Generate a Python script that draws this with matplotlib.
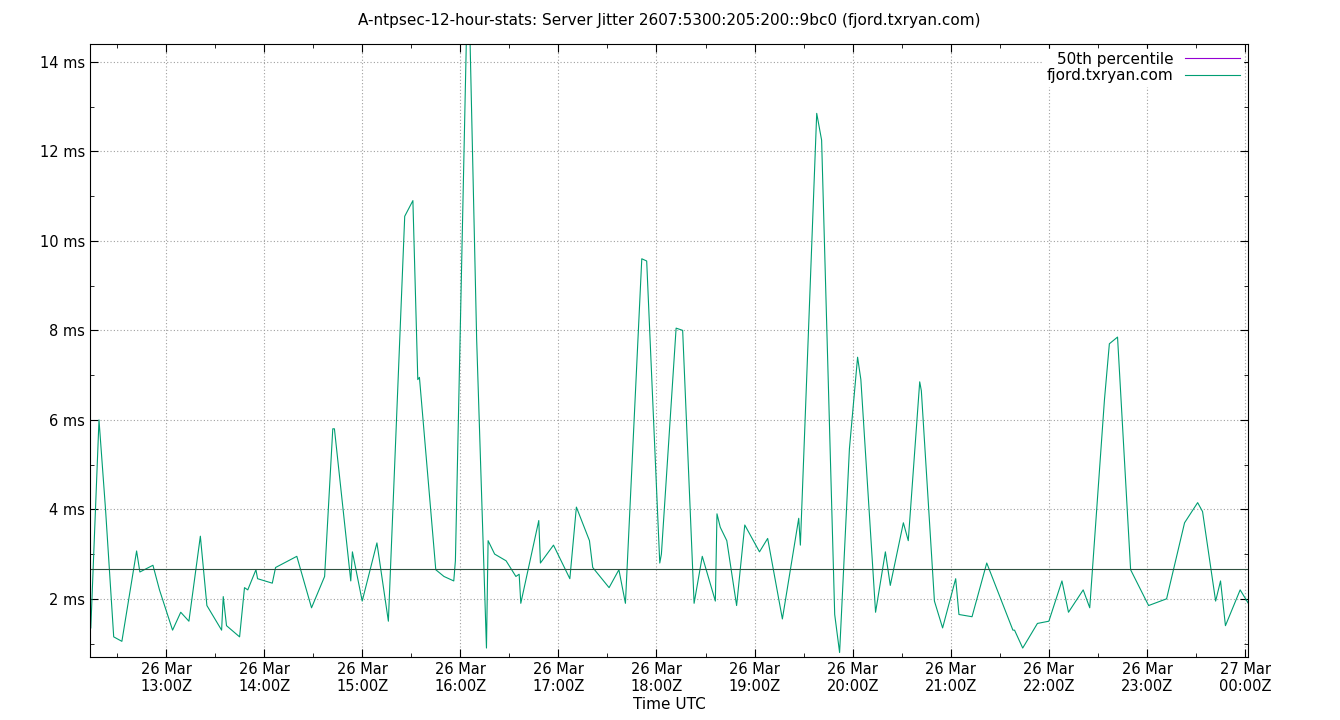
import matplotlib
matplotlib.use("Agg")
import matplotlib.pyplot as plt
from matplotlib.lines import Line2D
import numpy as np

# minutes after 26 Mar 12:00Z, jitter in ms
minutes = [14,19,23,28,33,42,44,52,56,64,69,74,81,85,94,95,97,105,108,110,115,116,125,127,140,149,157,162,163,173,174,180,189,196,206,211,214,215,225,230,236,237,244,246,250,256,257,261,268,274,276,277,288,289,297,307,311,319,321,331,337,341,351,354,362,363,372,376,383,388,396,397,399,403,409,414,423,428,437,447,448,458,461,469,472,478,483,485,494,500,503,511,514,521,522,530,535,543,545,553,562,578,579,584,593,600,608,612,621,625,634,637,642,650,661,672,683,691,694,702,705,708,717,722]
jitter = [1.35,6.0,4.0,1.15,1.05,3.07,2.6,2.75,2.2,1.3,1.7,1.5,3.4,1.85,1.3,2.05,1.4,1.15,2.25,2.2,2.65,2.45,2.35,2.7,2.95,1.8,2.5,5.8,5.8,2.4,3.05,1.95,3.25,1.5,10.55,10.9,6.9,6.95,2.65,2.5,2.4,2.85,15.0,14.4,7.8,0.9,3.3,3.0,2.85,2.5,2.55,1.9,3.75,2.8,3.2,2.45,4.05,3.3,2.7,2.25,2.65,1.9,9.6,9.55,2.8,3.0,8.05,8.0,1.9,2.95,1.95,3.9,3.6,3.3,1.85,3.65,3.05,3.35,1.55,3.8,3.2,12.85,12.25,1.65,0.8,5.35,7.4,6.9,1.7,3.05,2.3,3.7,3.3,6.85,6.65,1.95,1.35,2.45,1.65,1.6,2.8,1.3,1.3,0.9,1.45,1.5,2.4,1.7,2.2,1.8,6.45,7.7,7.85,2.65,1.85,2.0,3.7,4.15,3.95,1.95,2.4,1.4,2.2,1.9]
p50 = 2.67
tick_hours = list(range(13, 25))
tick_labels = ["26 Mar\n%02d:00Z" % h for h in range(13, 24)] + ["27 Mar\n00:00Z"]

fig = plt.figure(figsize=(13.4, 7.2), dpi=100)
ax = fig.add_axes([90/1340, 63/720, 1158/1340, 613/720])
x = np.array(minutes) / 60.0 + 12
ax.plot(x, jitter, color="#009e73", lw=0.8)
ax.axhline(p50, color="#2f4f3f", lw=0.8)
ax.set_xlim(12 + 13.5/60, 24 + 1.8/60)
ax.set_ylim(0.70, 14.4)
ax.set_xticks(tick_hours)
ax.set_xticklabels(tick_labels)
ax.set_xticks(np.arange(12.5, 24.1, 1.0), minor=True)
ax.set_yticks(range(2, 15, 2))
ax.set_yticklabels(["%d ms" % v for v in range(2, 15, 2)])
ax.set_yticks(range(1, 15, 2), minor=True)
ax.grid(True, which="major", color="#a0a0a0", ls=(0, (1, 2)), lw=0.8)
ax.tick_params(direction="in", which="both", top=True, right=True, labelsize=10.5)
ax.tick_params(which="major", length=6)
ax.tick_params(which="minor", length=3)
ax.set_xlabel("Time UTC", fontsize=11, labelpad=2)
ax.set_title("A-ntpsec-12-hour-stats: Server Jitter 2607:5300:205:200::9bc0 (fjord.txryan.com)", fontsize=11, pad=14)
handles = [Line2D([], [], color="#9400d3", lw=0.8), Line2D([], [], color="#009e73", lw=0.8)]
leg = ax.legend(handles, ["50th percentile", "fjord.txryan.com"], loc="upper right", markerfirst=False,
                frameon=True, framealpha=1, edgecolor="white", fontsize=11, handlelength=3.6,
                borderaxespad=0.3, labelspacing=0.1, borderpad=0.2)
for s in ax.spines.values():
    s.set_linewidth(0.8)
fig.savefig("out.png", dpi=100)
